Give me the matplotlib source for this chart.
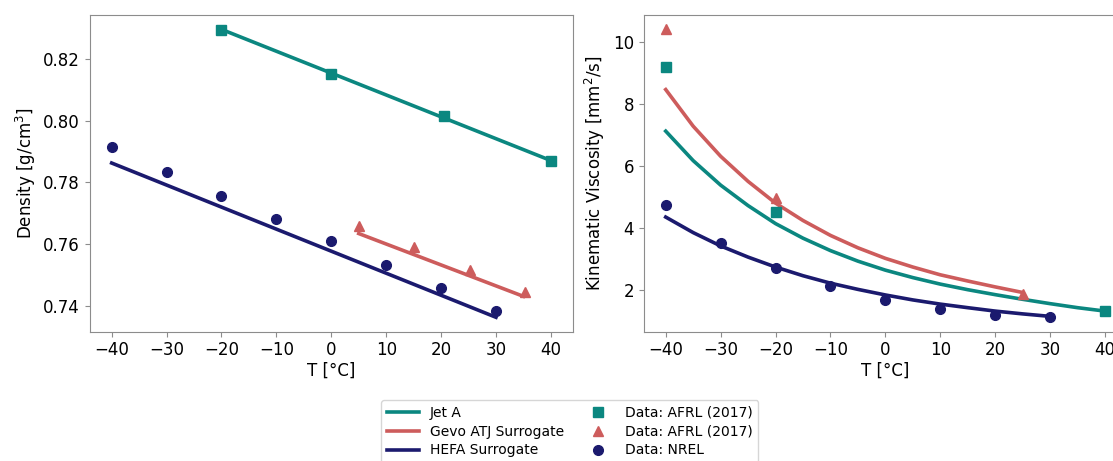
import matplotlib
matplotlib.use("Agg")
import matplotlib.pyplot as plt

# colours
c_jet = "#0b8780"
c_gevo = "#cd5c5c"
c_hefa = "#1b1a6e"

# density data
jet_rho_T = [-20, 0, 20.5, 40]
jet_rho = [0.8295, 0.8152, 0.8017, 0.7871]
gevo_rho_T = [5, 15, 25.3, 35.2]
gevo_rho = [0.7658, 0.7591, 0.7517, 0.7445]
hefa_rho_T = [-40, -30, -20, -10, 0, 10, 20, 30]
hefa_rho = [0.7916, 0.7833, 0.7756, 0.7680, 0.7609, 0.7531, 0.7456, 0.7381]

# density fits (straight lines, end points)
jet_rho_fit_T = [-20, 40]
jet_rho_fit = [0.8297, 0.7871]
gevo_rho_fit_T = [5, 35]
gevo_rho_fit = [0.7634, 0.7430]
hefa_rho_fit_T = [-40, 30]
hefa_rho_fit = [0.7863, 0.7362]

# viscosity data
jet_nu_T = [-40, -20, 40]
jet_nu = [9.2, 4.5, 1.32]
gevo_nu_T = [-40, -20, 25]
gevo_nu = [10.4, 4.95, 1.88]
hefa_nu_T = [-40, -30, -20, -10, 0, 10, 20, 30]
hefa_nu = [4.75, 3.52, 2.70, 2.13, 1.67, 1.40, 1.18, 1.12]

# viscosity fits
jet_nu_fit_T = [-40, -35, -30, -25, -20, -15, -10, -5, 0, 5, 10, 15, 20, 25, 30, 35, 40]
jet_nu_fit = [7.12, 6.17, 5.38, 4.72, 4.14, 3.67, 3.27, 2.93, 2.64, 2.40, 2.19,
              2.01, 1.85, 1.70, 1.56, 1.43, 1.32]
gevo_nu_fit_T = [-40, -35, -30, -25, -20, -15, -10, -5, 0, 5, 10, 15, 20, 25]
gevo_nu_fit = [8.46, 7.28, 6.31, 5.50, 4.80, 4.24, 3.76, 3.36, 3.02, 2.74, 2.49,
               2.29, 2.10, 1.92]
hefa_nu_fit_T = [-40, -35, -30, -25, -20, -15, -10, -5, 0, 5, 10, 15, 20, 25, 30]
hefa_nu_fit = [4.35, 3.85, 3.42, 3.06, 2.74, 2.46, 2.22, 2.02, 1.84, 1.68, 1.545,
               1.43, 1.32, 1.23, 1.15]

xticks = [-40, -30, -20, -10, 0, 10, 20, 30, 40]

plt.rcParams["font.size"] = 12

fig = plt.figure(figsize=(11.13, 4.61), dpi=100)
ax1 = fig.add_axes([0.0806, 0.2805, 0.4341, 0.687])
ax2 = fig.add_axes([0.5784, 0.2805, 0.4341, 0.687])

lw = 2.6
ms = 7

# density
ax1.plot(jet_rho_fit_T, jet_rho_fit, color=c_jet, lw=lw)
ax1.plot(gevo_rho_fit_T, gevo_rho_fit, color=c_gevo, lw=lw)
ax1.plot(hefa_rho_fit_T, hefa_rho_fit, color=c_hefa, lw=lw)
ax1.plot(jet_rho_T, jet_rho, "s", color=c_jet, ms=ms, ls="none")
ax1.plot(gevo_rho_T, gevo_rho, "^", color=c_gevo, ms=ms, ls="none")
ax1.plot(hefa_rho_T, hefa_rho, "o", color=c_hefa, ms=ms, ls="none")
ax1.set_xlim(-44, 44)
ax1.set_xticks(xticks)
ax1.set_yticks([0.74, 0.76, 0.78, 0.80, 0.82])
ax1.set_xlabel("T [°C]", labelpad=2)
ax1.set_ylabel("Density [g/cm$^3$]")

# viscosity
l1, = ax2.plot(jet_nu_fit_T, jet_nu_fit, color=c_jet, lw=lw)
l2, = ax2.plot(gevo_nu_fit_T, gevo_nu_fit, color=c_gevo, lw=lw)
l3, = ax2.plot(hefa_nu_fit_T, hefa_nu_fit, color=c_hefa, lw=lw)
m1, = ax2.plot(jet_nu_T, jet_nu, "s", color=c_jet, ms=ms, ls="none")
m2, = ax2.plot(gevo_nu_T, gevo_nu, "^", color=c_gevo, ms=ms, ls="none")
m3, = ax2.plot(hefa_nu_T, hefa_nu, "o", color=c_hefa, ms=ms, ls="none")
ax2.set_xlim(-44, 44)
ax2.set_xticks(xticks)
ax2.set_yticks([2, 4, 6, 8, 10])
ax2.set_xlabel("T [°C]", labelpad=2)
ax2.set_ylabel("Kinematic Viscosity [mm$^2$/s]")

for ax in (ax1, ax2):
    for s in ax.spines.values():
        s.set_color("#8c8c8c")
    ax.tick_params(color="#8c8c8c")

fig.legend([l1, l2, l3, m1, m2, m3],
           ["Jet A", "Gevo ATJ Surrogate", "HEFA Surrogate",
            "Data: AFRL (2017)", "Data: AFRL (2017)", "Data: NREL"],
           ncol=2, fontsize=10, loc="upper center", bbox_to_anchor=(0.512, 0.147),
           handlelength=2.3, columnspacing=1.3, labelspacing=0.35)

fig.savefig("out.png", dpi=100)
